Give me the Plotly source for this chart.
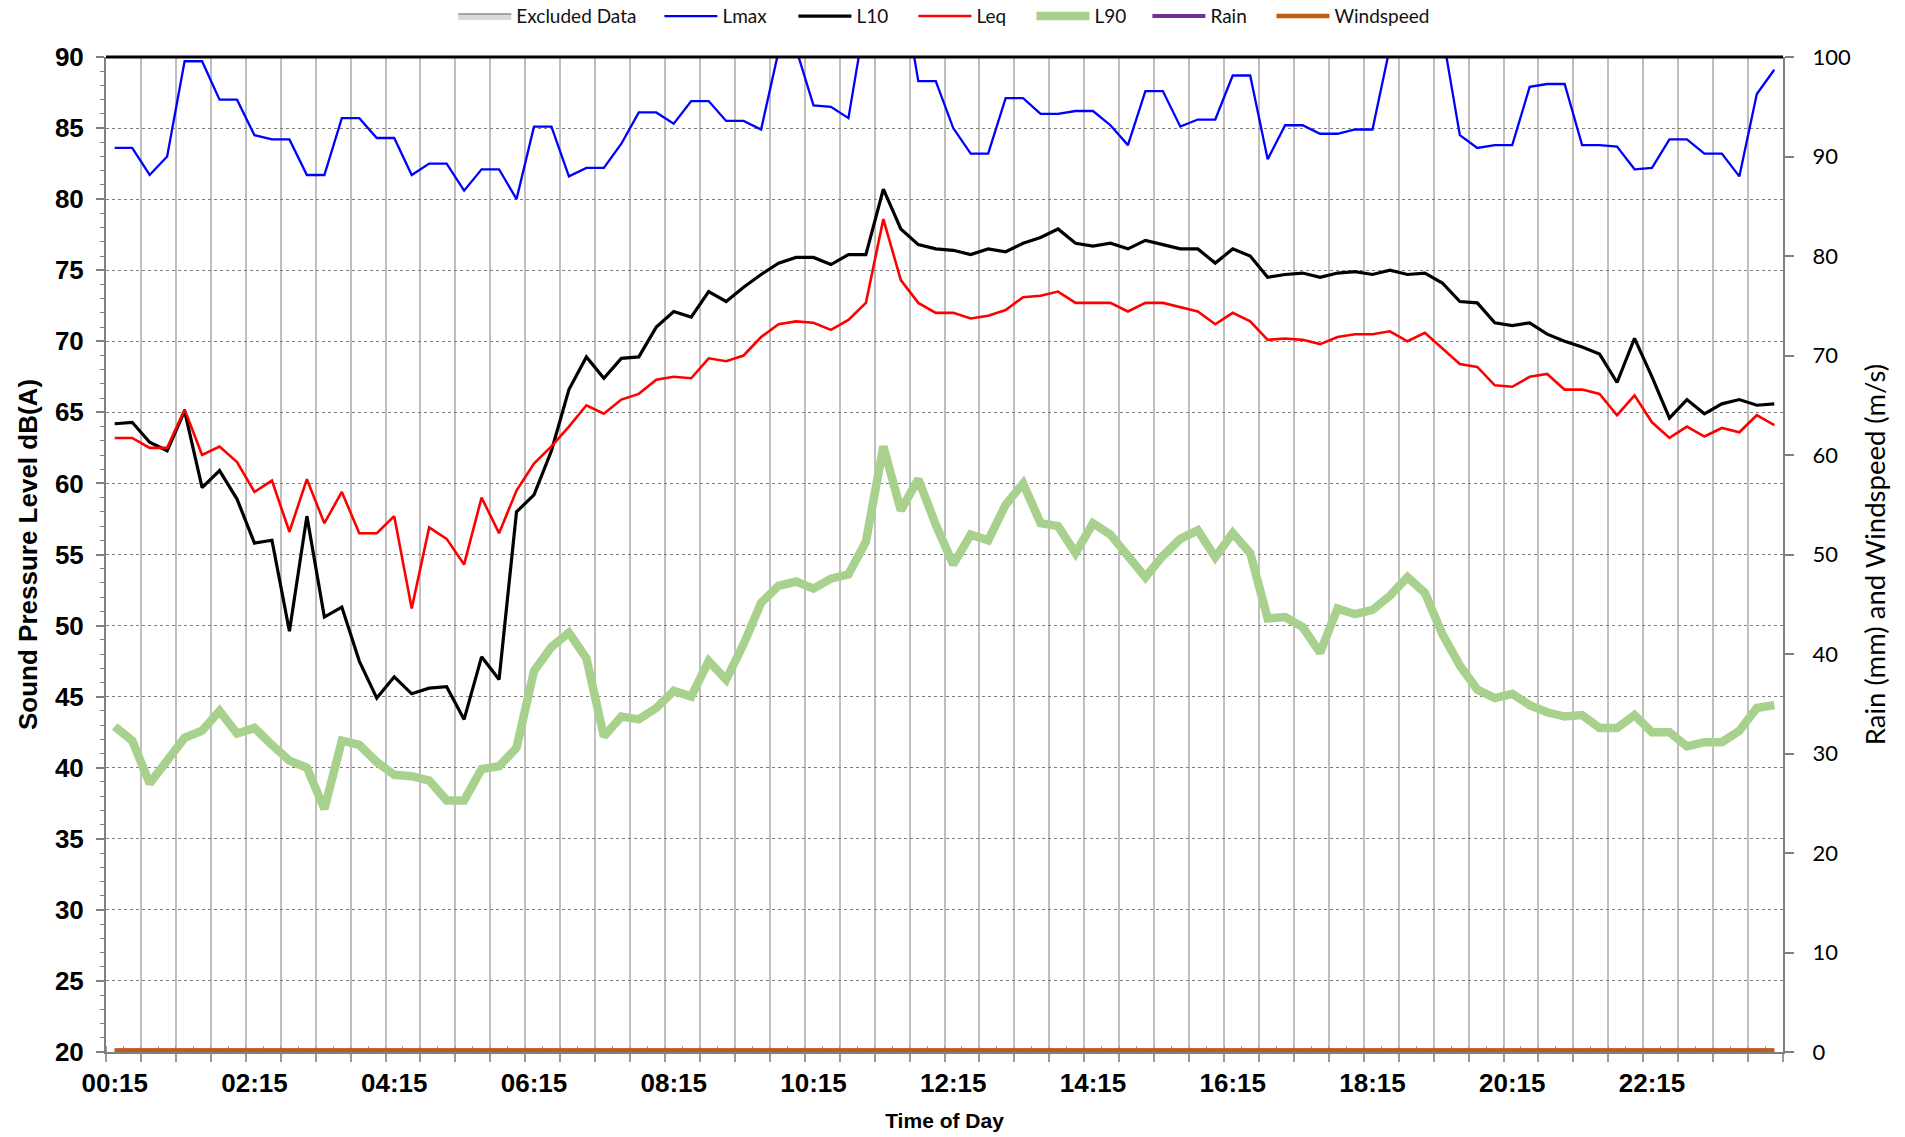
import plotly.graph_objects as go

# 15-minute intervals, 00:15 through 24:00
times = [f"{((k + 1) * 15 // 60) % 24:02d}:{((k + 1) * 15) % 60:02d}" for k in range(96)]
label_every = 8

lmax = [83.6, 83.6, 81.7, 83.0, 89.7, 89.7, 87.0, 87.0, 84.5, 84.2, 84.2, 81.7,
        81.7, 85.7, 85.7, 84.3, 84.3, 81.7, 82.5, 82.5, 80.6, 82.1, 82.1, 80.0,
        85.1, 85.1, 81.6, 82.2, 82.2, 83.9, 86.1, 86.1, 85.3, 86.9, 86.9, 85.5,
        85.5, 84.9, 90.4, 90.6, 86.6, 86.5, 85.7, 93.0, 96.0, 95.6, 88.3, 88.3,
        85.0, 83.2, 83.2, 87.1, 87.1, 86.0, 86.0, 86.2, 86.2, 85.2, 83.8, 87.6,
        87.6, 85.1, 85.6, 85.6, 88.7, 88.7, 82.8, 85.2, 85.2, 84.6, 84.6, 84.9,
        84.9, 90.7, 95.0, 94.0, 91.7, 84.5, 83.6, 83.8, 83.8, 87.9, 88.1, 88.1,
        83.8, 83.8, 83.7, 82.1, 82.2, 84.2, 84.2, 83.2, 83.2, 81.6, 87.4, 89.1]

l10 = [64.2, 64.3, 62.9, 62.3, 65.1, 59.7, 60.9, 58.9, 55.8, 56.0, 49.6, 57.7,
       50.6, 51.3, 47.5, 44.9, 46.4, 45.2, 45.6, 45.7, 43.4, 47.8, 46.2, 58.0,
       59.2, 62.3, 66.6, 68.9, 67.4, 68.8, 68.9, 71.0, 72.1, 71.7, 73.5, 72.8,
       73.8, 74.7, 75.5, 75.9, 75.9, 75.4, 76.1, 76.1, 80.7, 77.9, 76.8, 76.5,
       76.4, 76.1, 76.5, 76.3, 76.9, 77.3, 77.9, 76.9, 76.7, 76.9, 76.5, 77.1,
       76.8, 76.5, 76.5, 75.5, 76.5, 76.0, 74.5, 74.7, 74.8, 74.5, 74.8, 74.9,
       74.7, 75.0, 74.7, 74.8, 74.1, 72.8, 72.7, 71.3, 71.1, 71.3, 70.5, 70.0,
       69.6, 69.1, 67.1, 70.2, 67.5, 64.6, 65.9, 64.9, 65.6, 65.9, 65.5, 65.6]

leq = [63.2, 63.2, 62.5, 62.5, 65.2, 62.0, 62.6, 61.5, 59.4, 60.2, 56.6, 60.3,
       57.2, 59.4, 56.5, 56.5, 57.7, 51.2, 56.9, 56.1, 54.3, 59.0, 56.5, 59.5,
       61.4, 62.6, 64.0, 65.5, 64.9, 65.9, 66.3, 67.3, 67.5, 67.4, 68.8, 68.6,
       69.0, 70.3, 71.2, 71.4, 71.3, 70.8, 71.5, 72.7, 78.6, 74.3, 72.7, 72.0,
       72.0, 71.6, 71.8, 72.2, 73.1, 73.2, 73.5, 72.7, 72.7, 72.7, 72.1, 72.7,
       72.7, 72.4, 72.1, 71.2, 72.0, 71.4, 70.1, 70.2, 70.1, 69.8, 70.3, 70.5,
       70.5, 70.7, 70.0, 70.6, 69.5, 68.4, 68.2, 66.9, 66.8, 67.5, 67.7, 66.6,
       66.6, 66.3, 64.8, 66.2, 64.3, 63.2, 64.0, 63.3, 63.9, 63.6, 64.8, 64.1]

l90 = [42.9, 41.9, 38.9, 40.5, 42.1, 42.6, 44.0, 42.4, 42.8, 41.6, 40.5, 40.0,
       37.1, 41.9, 41.6, 40.4, 39.5, 39.4, 39.1, 37.7, 37.7, 39.9, 40.1, 41.4,
       46.8, 48.5, 49.5, 47.7, 42.2, 43.6, 43.4, 44.2, 45.4, 45.0, 47.5, 46.2,
       48.7, 51.6, 52.8, 53.1, 52.6, 53.3, 53.6, 55.9, 62.6, 58.1, 60.3, 57.1,
       54.3, 56.4, 56.0, 58.5, 60.0, 57.2, 57.0, 55.1, 57.2, 56.4, 54.8, 53.4,
       54.9, 56.1, 56.7, 54.8, 56.5, 55.1, 50.5, 50.6, 49.9, 48.1, 51.2, 50.8,
       51.1, 52.1, 53.4, 52.3, 49.4, 47.2, 45.5, 44.9, 45.2, 44.4, 43.9, 43.6,
       43.7, 42.8, 42.8, 43.7, 42.5, 42.5, 41.5, 41.8, 41.8, 42.6, 44.2, 44.4]

rain = [0, 0, 0, 0, 0, 0, 0, 0, 0, 0, 0, 0, 0, 0, 0, 0, 0, 0, 0, 0, 0, 0, 0, 0,
        0, 0, 0, 0, 0, 0, 0, 0, 0, 0, 0, 0, 0, 0, 0, 0, 0, 0, 0, 0, 0, 0, 0, 0,
        0, 0, 0, 0, 0, 0, 0, 0, 0, 0, 0, 0, 0, 0, 0, 0, 0, 0, 0, 0, 0, 0, 0, 0,
        0, 0, 0, 0, 0, 0, 0, 0, 0, 0, 0, 0, 0, 0, 0, 0, 0, 0, 0, 0, 0, 0, 0, 0]

windspeed = [0, 0, 0, 0, 0, 0, 0, 0, 0, 0, 0, 0, 0, 0, 0, 0, 0, 0, 0, 0, 0, 0, 0, 0,
             0, 0, 0, 0, 0, 0, 0, 0, 0, 0, 0, 0, 0, 0, 0, 0, 0, 0, 0, 0, 0, 0, 0, 0,
             0, 0, 0, 0, 0, 0, 0, 0, 0, 0, 0, 0, 0, 0, 0, 0, 0, 0, 0, 0, 0, 0, 0, 0,
             0, 0, 0, 0, 0, 0, 0, 0, 0, 0, 0, 0, 0, 0, 0, 0, 0, 0, 0, 0, 0, 0, 0, 0]

# no intervals were excluded on this day
excluded = [None] * len(times)

x = list(range(len(times)))
tick_pos = x[::label_every]
tick_text = times[::label_every]

ARIAL = "Liberation Sans, Arial, sans-serif"
CALIBRI = "Lato, Carlito, Calibri, sans-serif"

fig = go.Figure()

# excluded periods are shaded boxes; legend swatch is a filled rectangle
fig.add_trace(go.Scatter(
    x=x, y=excluded, name="Excluded Data", xaxis="x2", yaxis="y2",
    mode="lines", fill="toself", fillcolor="#D9D9D9",
    line=dict(color="#8C8C8C", width=1.5),
    legend="legend", legendwidth=142,
))

line_series = [
    ("Lmax", lmax, "#0000FF", 2.3, 66),
    ("L10", l10, "#000000", 3.2, 52),
    ("Leq", leq, "#FF0000", 2.6, 50),
    ("L90", l90, "#A9D18E", 8.5, 48),
]
for name, vals, color, width, lw in line_series:
    fig.add_trace(go.Scatter(
        x=x, y=vals, name=name, mode="lines",
        line=dict(color=color, width=width),
        legend="legend2", legendwidth=lw,
    ))

# weather series run along the bottom edge of the plot, where the lower half of
# the stroke is cut off, so the strokes are doubled and the legend keys get a
# separate entry at the nominal width
weather_series = [
    ("Rain", rain, "#7030A0", 4.0, 56),
    ("Windspeed", windspeed, "#C55A11", 4.5, 100),
]
for name, vals, color, width, lw in weather_series:
    fig.add_trace(go.Scatter(
        x=x, y=vals, name=name, mode="lines", xaxis="x2", yaxis="y2",
        line=dict(color=color, width=width * 1.7), legendgroup=name,
        showlegend=False,
    ))
    fig.add_trace(go.Scatter(
        x=[None], y=[None], name=name, mode="lines", xaxis="x2", yaxis="y2",
        line=dict(color=color, width=width), legendgroup=name,
        legend="legend2", legendwidth=lw,
    ))

xr = [-0.5, len(times) - 0.5]
legend_font = dict(family=CALIBRI, size=19, color="#111111")

fig.update_layout(
    width=1905, height=1137,
    margin=dict(l=106, r=122, t=57, b=85, autoexpand=False),
    paper_bgcolor="white", plot_bgcolor="white",
    showlegend=True,
    legend=dict(
        orientation="h", x=0.2071, xanchor="left", y=1.041, yanchor="middle",
        font=legend_font, itemwidth=53, bgcolor="rgba(0,0,0,0)", borderwidth=0,
    ),
    legend2=dict(
        orientation="h", x=0.3300, xanchor="left", y=1.041, yanchor="middle",
        font=legend_font, itemwidth=53, bgcolor="rgba(0,0,0,0)", borderwidth=0,
    ),
    xaxis=dict(
        type="linear", range=xr, tick0=-0.5, dtick=2, layer="below traces",
        showticklabels=False, showgrid=True, gridcolor="#BFBFBF", gridwidth=1.5,
        ticks="outside", ticklen=8, tickwidth=1.5, tickcolor="#9a9a9a",
        minor=dict(dtick=1, tick0=-0.5, ticks="inside", ticklen=6,
                   tickwidth=1, tickcolor="#9a9a9a", showgrid=False),
        showline=True, linecolor="#808080", linewidth=1.5,
        zeroline=False, fixedrange=True,
    ),
    xaxis2=dict(
        type="linear", range=xr, overlaying="x", side="bottom", anchor="y2",
        tickmode="array", tickvals=tick_pos, ticktext=tick_text,
        ticks="", showgrid=False, showline=False, zeroline=False,
        ticklabelstandoff=13,
        tickfont=dict(family=ARIAL, size=26, color="black", weight="bold"),
        title=dict(text="Time of Day", standoff=16,
                   font=dict(family=ARIAL, size=21, color="black", weight="bold")),
    ),
    yaxis=dict(
        range=[20, 90], dtick=5, tick0=20,
        showgrid=True, gridcolor="#7F7F7F", gridwidth=1, griddash="dot",
        ticks="outside", ticklen=8, tickwidth=1.5, tickcolor="#808080",
        minor=dict(dtick=1, ticks="outside", ticklen=4, tickwidth=1,
                   tickcolor="#808080", showgrid=False),
        showline=True, linecolor="#808080", linewidth=2,
        zeroline=False, ticklabelstandoff=7,
        tickfont=dict(family=ARIAL, size=26, color="black", weight="bold"),
        title=dict(text="Sound Pressure Level dB(A)", standoff=10,
                   font=dict(family=ARIAL, size=26, color="black", weight="bold")),
    ),
    yaxis2=dict(
        range=[0, 100], dtick=10, overlaying="y", side="right", anchor="x2",
        showgrid=False, zeroline=False,
        ticks="outside", ticklen=9, tickwidth=1.5, tickcolor="#808080",
        showline=True, linecolor="#808080", linewidth=2,
        ticklabelstandoff=14,
        tickfont=dict(family=CALIBRI, size=22, color="black"),
        title=dict(text="Rain (mm) and Windspeed (m/s)", standoff=16,
                   font=dict(family=CALIBRI, size=27.5, color="black")),
    ),
    shapes=[dict(type="line", xref="paper", yref="paper", x0=0, x1=1, y0=1, y1=1,
                 line=dict(color="black", width=3), layer="above")],
)

fig.write_html("out.html")
